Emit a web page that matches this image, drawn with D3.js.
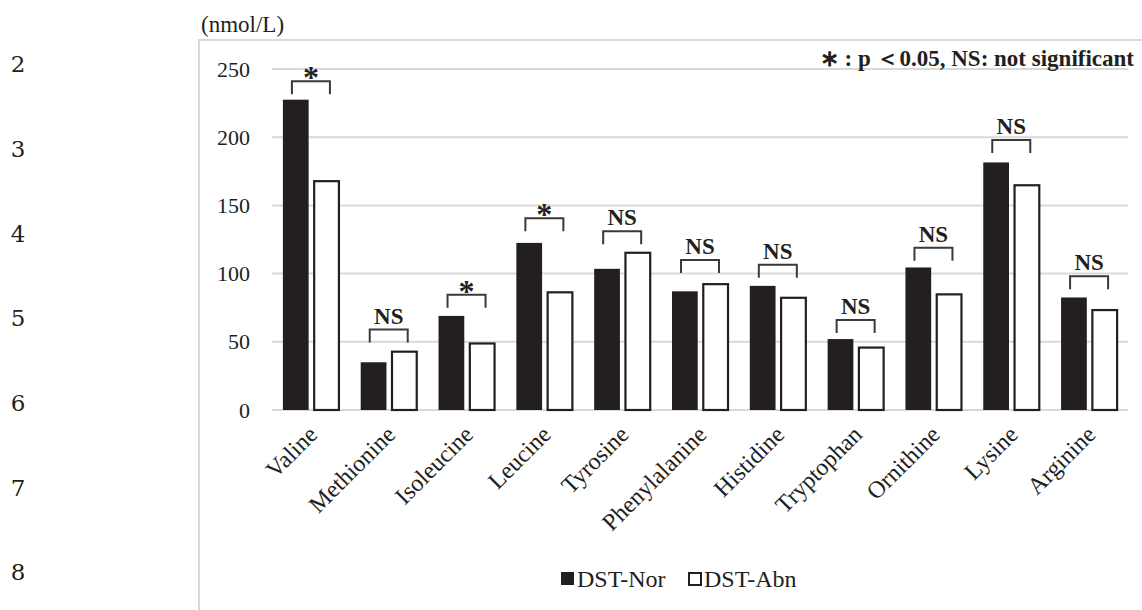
<!DOCTYPE html>
<html>
<head>
<meta charset="utf-8">
<script src="https://cdn.jsdelivr.net/npm/d3@7"></script>
<style>
  html, body { margin: 0; padding: 0; background: #fff; }
  svg { display: block; }
  svg text { font-family: "Liberation Serif", "Times New Roman", serif; fill: #231f20; }
</style>
</head>
<body>
<svg id="chart" width="1142" height="610" font-family="Liberation Serif"></svg>
<script>
// ---- data ----
const categories = ["Valine", "Methionine", "Isoleucine", "Leucine", "Tyrosine", "Phenylalanine",
  "Histidine", "Tryptophan", "Ornithine", "Lysine", "Arginine"];
const seriesNames = ["DST-Nor", "DST-Abn"];
const dstNor = [227.5, 35, 69, 122.5, 103.5, 87, 91, 52, 104.5, 181.5, 82.5];
const dstAbn = [168.5, 43.5, 49.5, 87, 116, 93, 83, 46.5, 85.5, 165.5, 74];
const sigLabels = ["*", "NS", "*", "*", "NS", "NS", "NS", "NS", "NS", "NS", "NS"];
const bracketLevels = [241, 59, 84.5, 140.5, 131, 110, 106.5, 66, 119, 198, 98];
const yTicks = [0, 50, 100, 150, 200, 250];
const unitLabel = "(nmol/L)";
const noteText = "\u2217 : p \uFF1C0.05, NS: not significant";
const lineNumbers = ["2", "3", "4", "5", "6", "7", "8"];

// ---- layout ----
const svg = d3.select("#chart");
const plotLeft = 272, plotRight = 1128, plotTop = 69, plotBottom = 410;
const ink = "#231f20";
const serif = "'Liberation Serif', 'Times New Roman', serif";

const x = d3.scaleBand().domain(categories).range([plotLeft, plotRight])
  .paddingInner(0.28).paddingOuter(0.14);
const x1 = d3.scaleBand().domain(seriesNames).range([0, x.bandwidth()]).paddingInner(0.15);
const y = d3.scaleLinear().domain([0, 250]).range([plotBottom, plotTop]);

// line numbers (manuscript margin)
const ln = d3.scaleLinear().domain([0, lineNumbers.length - 1]).range([64, 572]);
svg.append("g").selectAll("text").data(lineNumbers).join("text")
  .attr("x", 18).attr("y", (d, i) => ln(i)).attr("dy", "0.36em")
  .attr("text-anchor", "middle")
  .style("font-family", "'DejaVu Serif', serif")
  .style("font-size", "23px")
  .text(d => d);

// chart frame (light border, top & left)
svg.append("path")
  .attr("d", "M199,610 L199,40 L1142,40")
  .attr("fill", "none").attr("stroke", "#d9d9d9").attr("stroke-width", 2);

// unit label
svg.append("text").attr("x", 201).attr("y", 32)
  .style("font-family", serif).style("font-size", "23px").text(unitLabel);

// gridlines
svg.append("g").selectAll("line").data(yTicks).join("line")
  .attr("x1", plotLeft).attr("x2", plotRight)
  .attr("y1", d => y(d)).attr("y2", d => y(d))
  .attr("stroke", "#d9d9d9").attr("stroke-width", 2);

// y axis
const yAxis = svg.append("g").attr("transform", `translate(${plotLeft},0)`)
  .call(d3.axisLeft(y).tickValues(yTicks).tickSize(0).tickPadding(22));
yAxis.attr("font-family", null).attr("font-size", null);
yAxis.select(".domain").remove();
yAxis.selectAll("text").style("font-family", serif)
  .style("font-size", "22px").attr("fill", ink);

// bars
const groups = svg.append("g").selectAll("g").data(categories).join("g")
  .attr("transform", d => `translate(${x(d)},0)`);
const vals = [dstNor, dstAbn];
groups.selectAll("rect").data((d, i) => seriesNames.map((s, j) => ({ s, v: vals[j][i] })))
  .join("rect")
  .attr("x", d => x1(d.s) + (d.s === "DST-Abn" ? 1 : 0))
  .attr("width", d => x1.bandwidth() - (d.s === "DST-Abn" ? 1 : 0))
  .attr("y", d => y(d.v) + (d.s === "DST-Abn" ? 1 : 0))
  .attr("height", d => y(0) - y(d.v) - (d.s === "DST-Abn" ? 1 : 0))
  .attr("fill", d => d.s === "DST-Nor" ? ink : "#fff")
  .attr("stroke", d => d.s === "DST-Nor" ? "none" : ink)
  .attr("stroke-width", 2.2);

// significance brackets
const half = 19, leg = 13;
const br = svg.append("g");
categories.forEach((c, i) => {
  const cx = x(c) + x.bandwidth() / 2;
  const by = y(bracketLevels[i]);
  br.append("path")
    .attr("d", `M${cx - half},${by + leg} L${cx - half},${by} L${cx + half},${by} L${cx + half},${by + leg}`)
    .attr("fill", "none").attr("stroke", "#3a3a3a").attr("stroke-width", 2);
  if (sigLabels[i] === "*") {
    br.append("text").attr("x", cx).attr("y", by + 7)
      .attr("text-anchor", "middle")
      .style("font-family", serif)
      .style("font-size", "32px").style("font-weight", "bold")
      .text(sigLabels[i]);
  } else {
    br.append("text").attr("x", cx).attr("y", by - 6)
      .attr("text-anchor", "middle")
      .style("font-family", serif)
      .style("font-size", "23px").style("font-weight", "bold")
      .text(sigLabels[i]);
  }
});

// category labels
svg.append("g").selectAll("text").data(categories).join("text")
  .attr("transform", d => `translate(${x(d) + x.bandwidth() / 2 + 2},${plotBottom + 20}) rotate(-45)`)
  .attr("text-anchor", "end")
  .attr("dy", "0.35em")
  .style("font-family", serif)
  .style("font-size", "24px")
  .text(d => d);

// note
svg.append("text").attr("x", 1134).attr("y", 66).attr("text-anchor", "end")
  .style("font-family", serif)
  .style("font-size", "23px").style("font-weight", "bold").text(noteText);

// legend
const legendX = [561, 688];
const lg = svg.append("g");
seriesNames.forEach((s, i) => {
  lg.append("rect").attr("x", legendX[i] + (i ? 1 : 0)).attr("y", 572 + (i ? 1 : 0))
    .attr("width", 13 - (i ? 1 : 0)).attr("height", 13 - (i ? 1 : 0))
    .attr("fill", i ? "#fff" : ink).attr("stroke", i ? ink : "none").attr("stroke-width", 2);
  lg.append("text").attr("x", legendX[i] + 16).attr("y", 587)
    .style("font-family", serif)
    .style("font-size", "24px").text(s);
});
</script>
</body>
</html>
